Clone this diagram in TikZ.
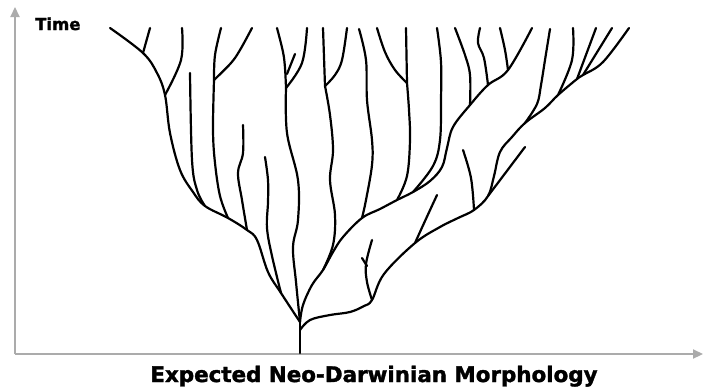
\documentclass[tikz,border=0pt]{standalone}
\usepackage{fontspec}
\setsansfont{DejaVu Sans}[BoldFeatures={FakeBold=1.6}]
\usepackage{tikz}
\usetikzlibrary{arrows.meta}

\begin{document}
\begin{tikzpicture}[x=1pt, y=-1pt,
 br/.style={line width=2.2pt, line cap=round, line join=round},
 ax/.style={line width=2.2pt, draw=black!33, -{Triangle[length=10pt,width=9pt]}},
 lbl/.style={font=\sffamily\bfseries, inner sep=0pt}]
\useasboundingbox (0,0) rectangle (704,391);
% axes
\coordinate (o) at (15,354);
\coordinate (ytop) at (15,7);
\coordinate (xend) at (703,354);
\draw[ax] (o)--(ytop);
\draw[ax] (o)--(xend);
\node[lbl, anchor=base west, font=\sffamily\bfseries\fontsize{16.5}{18}\selectfont] (time) at (35,30) {Time};
\node[lbl, anchor=base, font=\sffamily\bfseries\fontsize{21.4}{24}\selectfont] (cap) at (374,382) {Expected Neo-Darwinian Morphology};
% junctions
\coordinate (root) at (300,353);
\coordinate (top) at (300,322);
\coordinate (jr) at (300,330);
\coordinate (jlow) at (474,210);
\coordinate (jy) at (372,300);
\coordinate (jtw) at (415,243);
\coordinate (jmid) at (323,270);
\coordinate (jl) at (281,293);
\coordinate (jl1) at (205,206);
\coordinate (jl2) at (228,218);
\coordinate (jl3) at (247,230);
\coordinate (nL) at (165,95);
\coordinate (nL0) at (143,53);
\coordinate (nA) at (214,80);
\coordinate (nB) at (286,88);
\coordinate (nC) at (325,86);
\coordinate (nD) at (407,83);
\coordinate (nR1) at (525,123);
\coordinate (nR2) at (558,95);
\coordinate (nR3) at (577,79);
\coordinate (nR4) at (583,75);
\coordinate (nU1) at (470,105);
\coordinate (nU2) at (488,85);
\coordinate (nU3) at (508,70);
\coordinate (nU4) at (413,192);
\coordinate (nU5) at (397,200);
\coordinate (nU6) at (362,218);
\coordinate (jtw2) at (488,196);
% trunk
\draw[br] (root)--(top);
% lower right lineage
\draw[br] plot[smooth, tension=0.6] coordinates {(jr) (310,320) (330,315) (350,312) (364,306) (jy) (384,274) (jtw) (440,227) (458,218) (jlow) (jtw2) (494,176) (500,152) (512,137) (nR1) (545,108) (nR2) (nR3) (nR4) (603,62) (629,28)};
\draw[br] plot[smooth, tension=0.6] coordinates {(550,29) (545,60) (541,85) (537,104) (nR1)};
\draw[br] plot[smooth, tension=0.6] coordinates {(573,28) (572,60) (nR2)};
\draw[br] (596,28)--(nR3);
\draw[br] (612,28)--(nR4);
\draw[br] (525,147)--(jtw2);
\draw[br] plot[smooth, tension=0.6] coordinates {(463,150) (471,178) (jlow)};
\draw[br] plot[smooth, tension=0.6] coordinates {(437,195) (425,221) (jtw)};
\draw[br] plot[smooth, tension=0.6] coordinates {(jy) (367,282) (366,264) (372,240)};
\draw[br] (362,258)--(367,266);
% upper right lineage
\draw[br] plot[smooth, tension=0.6] coordinates {(top) (303,305) (312,285) (jmid) (333,252) (343,237) (nU6) (380,209) (nU5) (nU4) (430,181) (442,167) (447,148) (453,127) (nU1) (nU2) (nU3) (532,28)};
\draw[br] plot[smooth, tension=0.6] coordinates {(455,28) (465,55) (470,75) (nU1)};
\draw[br] plot[smooth, tension=0.6] coordinates {(480,28) (478,43) (484,58) (nU2)};
\draw[br] plot[smooth, tension=0.6] coordinates {(500,28) (505,50) (nU3)};
\draw[br] plot[smooth, tension=0.6] coordinates {(437,28) (441,62) (441,100) (440,140) (433,166) (nU4)};
\draw[br] plot[smooth, tension=0.6] coordinates {(nD) (409,110) (410,140) (407,176) (nU5)};
\draw[br] (406,28)--(nD);
\draw[br] plot[smooth, tension=0.6] coordinates {(377,28) (385,52) (395,70) (nD)};
\draw[br] plot[smooth, tension=0.6] coordinates {(359,29) (366,60) (367,100) (372,140) (372,165) (366,200) (nU6)};
% centre lineages
\draw[br] plot[smooth, tension=0.6] coordinates {(nC) (330,115) (333,150) (330,180) (335,215) (333,245) (jmid)};
\draw[br] (323,28)--(nC);
\draw[br] plot[smooth, tension=0.6] coordinates {(347,28) (342,60) (335,75) (nC)};
\draw[br] plot[smooth, tension=0.6] coordinates {(nB) (287,133) (298,180) (298,220) (293,247) (296,282) (top)};
\draw[br] plot[smooth, tension=0.6] coordinates {(277,28) (283,52) (285,68) (nB)};
\draw[br] plot[smooth, tension=0.6] coordinates {(307,28) (302,63) (nB)};
\draw[br] (295,54)--(287,74);
\draw[br] plot[smooth, tension=0.6] coordinates {(265,157) (268,180) (268,202) (267,228) (272,256) (jl)};
% left lineage
\draw[br] plot[smooth, tension=0.6] coordinates {(110,28) (nL0) (157,73) (nL) (170,133) (180,170) (193,192) (jl1) (jl2) (jl3) (257,240) (268,272) (jl) (top)};
\draw[br] (150,28)--(nL0);
\draw[br] plot[smooth, tension=0.6] coordinates {(182,28) (181,60) (nL)};
\draw[br] plot[smooth, tension=0.6] coordinates {(190,73) (192,160) (197,190) (jl1)};
\draw[br] plot[smooth, tension=0.6] coordinates {(nA) (213,130) (215,163) (220,196) (jl2)};
\draw[br] plot[smooth, tension=0.6] coordinates {(221,28) (215,55) (nA)};
\draw[br] plot[smooth, tension=0.6] coordinates {(252,28) (240,50) (231,63) (nA)};
\draw[br] plot[smooth, tension=0.6] coordinates {(243,125) (243,153) (238,173) (242,200) (jl3)};
\end{tikzpicture}
\end{document}
